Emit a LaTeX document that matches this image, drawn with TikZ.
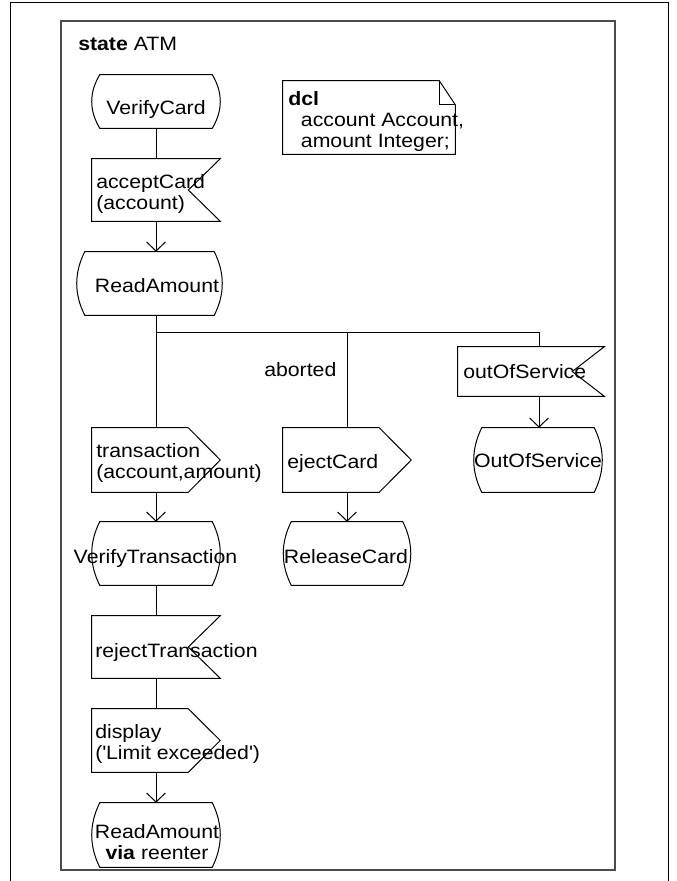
\documentclass[tikz,border=0pt]{standalone}
\usepackage{fontspec}
\setmainfont{Liberation Sans}[FakeStretch=1.1]
\usetikzlibrary{arrows.meta,calc}

% SDL state symbol: flat top and bottom, bulging sides
\newcommand\sdlstate[1]{%
  \draw[shp] ($(#1.north west)+(8,0)$) -- ($(#1.north east)+(-8,0)$)
    .. controls ($(#1.north east)!.3333!(#1.south east)+(2.67,0)$)
           and ($(#1.north east)!.6667!(#1.south east)+(2.67,0)$)
    .. ($(#1.south east)+(-8,0)$)
    -- ($(#1.south west)+(8,0)$)
    .. controls ($(#1.south west)!.3333!(#1.north west)+(-2.67,0)$)
           and ($(#1.south west)!.6667!(#1.north west)+(-2.67,0)$)
    .. ($(#1.north west)+(8,0)$) -- cycle;}
% SDL input symbol: notch cut into the right side
\newcommand\sdlinput[1]{%
  \draw[shp] (#1.north west) -- (#1.north east) -- ($(#1.east)+(-32,0)$)
    -- (#1.south east) -- (#1.south west) -- cycle;}
% SDL output symbol: point on the right side
\newcommand\sdloutput[1]{%
  \draw[shp] (#1.north west) -- ($(#1.north east)+(-32,0)$) -- (#1.east)
    -- ($(#1.south east)+(-32,0)$) -- (#1.south west) -- cycle;}
% text symbol with folded corner
\newcommand\sdlnote[1]{%
  \draw[shp] (#1.north west) -- ($(#1.north east)+(-16,0)$)
    -- ($(#1.north east)+(0,24)$) -- (#1.south east) -- (#1.south west) -- cycle;
  \draw[shp] ($(#1.north east)+(-16,0)$) -- ($(#1.north east)+(-16,24)$)
    -- ($(#1.north east)+(0,24)$);}

\begin{document}
\begin{tikzpicture}[x=0.75pt,y=-0.75pt,
  shp/.style={line width=0.75pt},
  sdlbox/.style n args={2}{rectangle, inner sep=0pt,
    minimum width=#1*0.75pt, minimum height=#2*0.75pt},
  txt/.style={inner sep=0pt, font=\fontsize{14.5pt}{15.75pt}\selectfont},
  link/.style={line width=0.75pt},
  flow/.style={link, -{Straight Barb[length=6.75pt,width=14pt]}}]

\useasboundingbox (0,0) rectangle (676,881);

% page frame and state frame
\draw[line width=0.75pt] (10,881) -- (10,3) -- (668,3) -- (668,881);
\draw[line width=1.4pt, black!70] (61,21) rectangle (615,870);

% symbols
\node[sdlbox={128}{53}] (vcard)   at (156,101.5) {};
\node[sdlbox={128}{62}] (accept)  at (156,190)   {};
\node[sdlbox={145}{63}] (read)    at (149.5,283.5) {};
\node[sdlbox={128}{64}] (trans)   at (156,460)   {};
\node[sdlbox={128}{64}] (eject)   at (347,460)   {};
\node[sdlbox={146}{49}] (oosig)   at (531,371.5) {};
\node[sdlbox={128}{64}] (oostate) at (538,460)   {};
\node[sdlbox={128}{63}] (vtrans)  at (156,553.5) {};
\node[sdlbox={127}{63}] (release) at (347,553.5) {};
\node[sdlbox={128}{62}] (reject)  at (156,647)   {};
\node[sdlbox={128}{63}] (display) at (156,740.5) {};
\node[sdlbox={128}{64}] (reenter) at (156,835)   {};
\node[sdlbox={172}{73}] (decl)    at (369,117.5) {};

\sdlstate{vcard}
\sdlinput{accept}
\sdlstate{read}
\sdloutput{trans}
\sdloutput{eject}
\sdlinput{oosig}
\sdlstate{oostate}
\sdlstate{vtrans}
\sdlstate{release}
\sdlinput{reject}
\sdloutput{display}
\sdlstate{reenter}
\sdlnote{decl}

% branch points below ReadAmount
\coordinate (fork)  at (156,332);
\coordinate (forkB) at (347,332);
\coordinate (forkC) at (539,332);

% connectors
\draw[link] (vcard) -- (accept);
\draw[flow] (accept) -- (read.north -| accept);
\draw[link] (read.south -| accept) -- (fork) -- (forkC);
\draw[link] (fork) -- (trans);
\draw[link] (forkB) -- (eject);
\draw[link] (forkC) -- (oosig.north -| forkC);
\draw[flow] (oosig.south -| forkC) -- (oostate.north -| forkC);
\draw[flow] (trans) -- (vtrans);
\draw[flow] (eject) -- (release);
\draw[link] (vtrans) -- (reject);
\draw[link] (reject) -- (display);
\draw[flow] (display) -- (reenter);

% texts
\node[txt, anchor=base west] (t-title) at (78,51) {\textbf{state} ATM};
\node[txt, anchor=base west] (t-decl) at (288,105)
  {\begin{tabular}[t]{@{}l@{}}\textbf{dcl}\\
   \hspace*{9.5pt}account Account,\\ \hspace*{9.5pt}amount Integer;\end{tabular}};
\node[txt, anchor=base] (t-vcard) at (156,114) {VerifyCard};
\node[txt, anchor=base west] (t-accept) at (96,188.5)
  {\begin{tabular}[t]{@{}l@{}}acceptCard\\(account)\end{tabular}};
\node[txt, anchor=base] (t-read) at (157,292) {ReadAmount};
\node[txt, anchor=base west] (t-aborted) at (264,376) {aborted};
\node[txt, anchor=base west] (t-oosig) at (463,378) {outOfService};
\node[txt, anchor=base west] (t-trans) at (96,457)
  {\begin{tabular}[t]{@{}l@{}}transaction\\(account,amount)\end{tabular}};
\node[txt, anchor=base west] (t-eject) at (287,468) {ejectCard};
\node[txt, anchor=base] (t-oostate) at (538,467) {OutOfService};
\node[txt, anchor=base] (t-vtrans) at (155.5,563) {VerifyTransaction};
\node[txt, anchor=base] (t-release) at (346,563) {ReleaseCard};
\node[txt, anchor=base west] (t-reject) at (95,657) {rejectTransaction};
\node[txt, anchor=base west] (t-display) at (95,738)
  {\begin{tabular}[t]{@{}l@{}}display\\(\textquotesingle Limit exceeded\textquotesingle)\end{tabular}};
\node[txt, anchor=base] (t-reenter) at (157,838)
  {\begin{tabular}[t]{@{}c@{}}ReadAmount\\\textbf{via} reenter\end{tabular}};
\end{tikzpicture}
\end{document}
